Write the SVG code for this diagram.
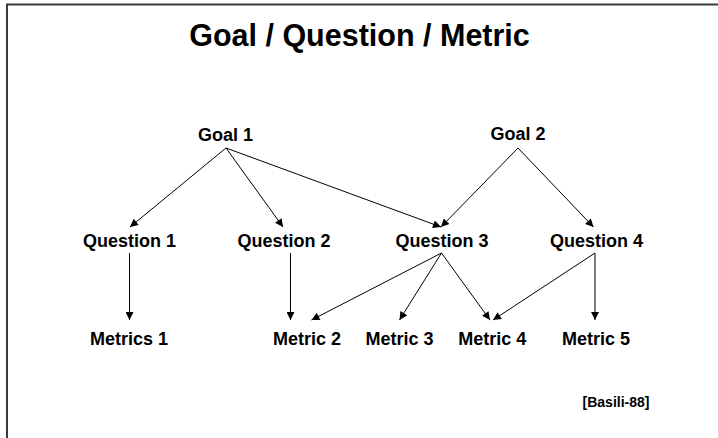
<svg xmlns="http://www.w3.org/2000/svg" width="718" height="438" viewBox="0 0 718 438">
<defs>
<marker id="ah" viewBox="0 0 10 10" refX="10" refY="5" markerWidth="9" markerHeight="8" markerUnits="userSpaceOnUse" orient="auto">
<path d="M0,0 L10,5 L0,10 Z" fill="#000"/>
</marker>
<style>
text{font-family:"Liberation Sans",Arial,sans-serif;font-weight:bold;fill:#000;text-anchor:middle}
.n{font-size:18px}
.t{font-size:30.5px}
.r{font-size:14px}
.c line{stroke:#000;stroke-width:1;marker-end:url(#ah)}
.f{stroke:#3a3a3a;stroke-width:2;fill:none}
</style>
</defs>
<rect width="718" height="438" fill="#fff"/>
<path class="f" d="M7,438 V4.5 H718"/>
<text class="t" x="359.5" y="46">Goal / Question / Metric</text>
<g class="c" id="connectors">
<line x1="226" y1="148" x2="130" y2="227"/>
<line x1="226" y1="148" x2="283" y2="227"/>
<line x1="226" y1="148" x2="441" y2="227"/>
<line x1="518" y1="148" x2="441" y2="227"/>
<line x1="518" y1="148" x2="593.5" y2="227"/>
<line x1="129.5" y1="253" x2="129.5" y2="320"/>
<line x1="290.5" y1="253" x2="290.5" y2="320"/>
<line x1="441.5" y1="253" x2="311.5" y2="320"/>
<line x1="441.5" y1="253" x2="399.5" y2="320"/>
<line x1="441.5" y1="253" x2="490" y2="320"/>
<line x1="595" y1="253" x2="493" y2="320"/>
<line x1="595" y1="253" x2="595" y2="320"/>
</g>
<g id="goal1"><text class="n" x="225.5" y="141">Goal 1</text></g>
<g id="goal2"><text class="n" x="518" y="139.5">Goal 2</text></g>
<g id="question1"><text class="n" x="129.5" y="247">Question 1</text></g>
<g id="question2"><text class="n" x="284" y="247">Question 2</text></g>
<g id="question3"><text class="n" x="442" y="247">Question 3</text></g>
<g id="question4"><text class="n" x="596.5" y="247">Question 4</text></g>
<g id="metrics1"><text class="n" x="129" y="345">Metrics 1</text></g>
<g id="metric2"><text class="n" x="307" y="345">Metric 2</text></g>
<g id="metric3"><text class="n" x="399.5" y="345">Metric 3</text></g>
<g id="metric4"><text class="n" x="492.3" y="345">Metric 4</text></g>
<g id="metric5"><text class="n" x="596" y="345">Metric 5</text></g>
<text class="r" x="616" y="407">[Basili-88]</text>
</svg>
